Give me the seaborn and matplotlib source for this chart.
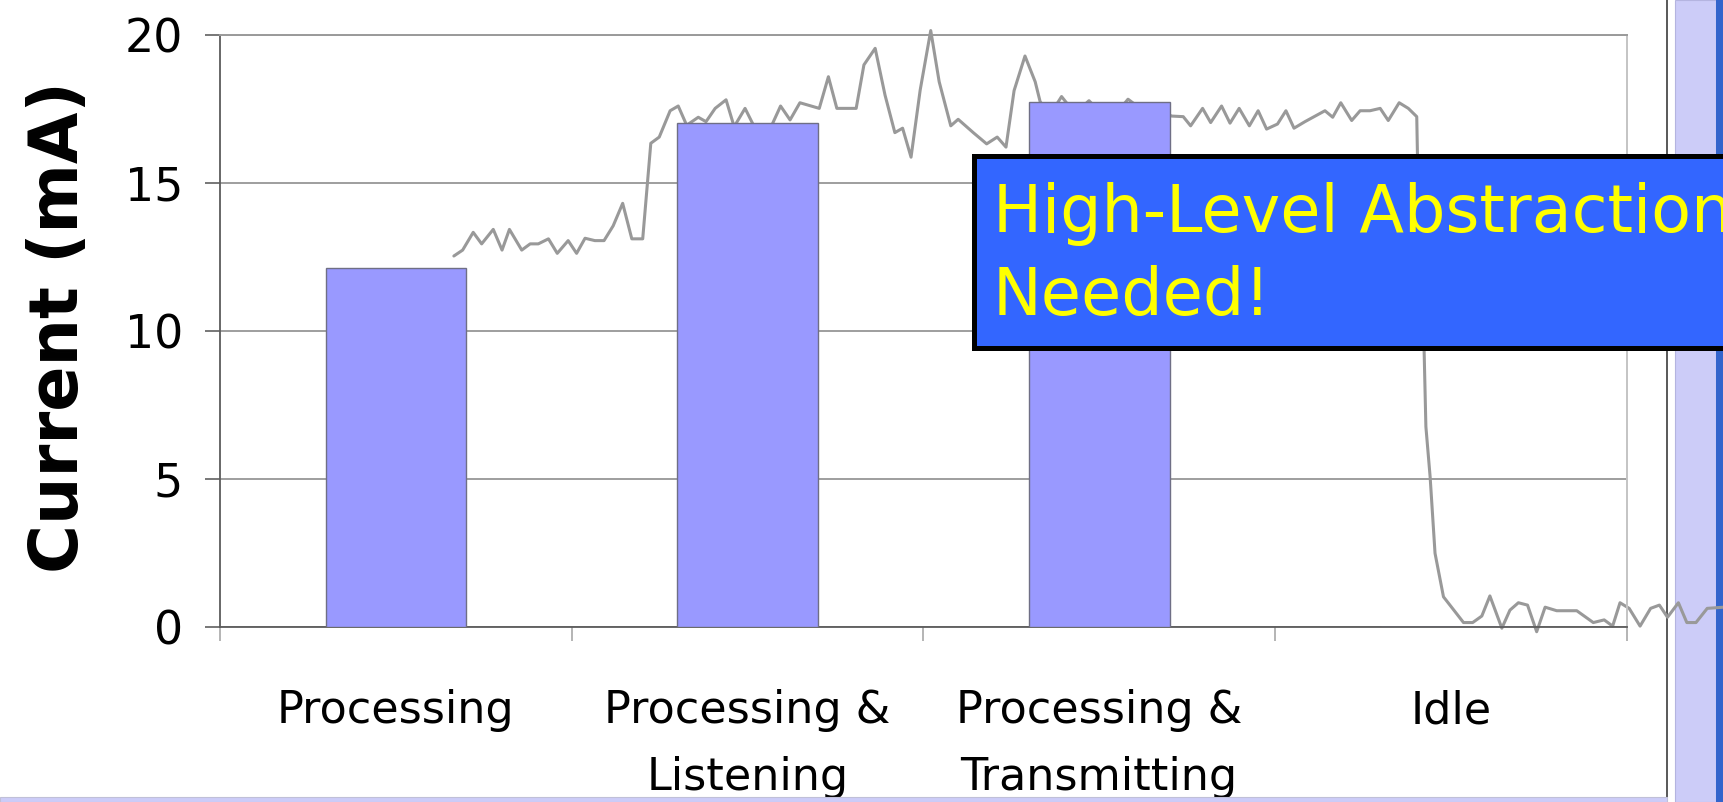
import numpy as np
import pandas as pd
import matplotlib
matplotlib.use("Agg")
import matplotlib.pyplot as plt
import seaborn as sns
from matplotlib.patches import Rectangle
from matplotlib.lines import Line2D

# Average current per operating mode
modes = ["Processing", "Processing &\nListening", "Processing &\nTransmitting", "Idle"]
mode_current_ma = [12.12, 17.02, 17.73, 0.0]

# Measured current trace, position along the mode axis and current in mA
trace_pos = [
    0.165, 0.190, 0.220, 0.244, 0.277, 0.302, 0.323, 0.358, 0.382, 0.405,
    0.434, 0.459, 0.490, 0.514, 0.538, 0.566, 0.592, 0.618, 0.645, 0.671,
    0.702, 0.725, 0.749, 0.780, 0.803, 0.827, 0.860, 0.882, 0.908, 0.939,
    0.962, 0.993, 1.017, 1.041, 1.069, 1.094, 1.121, 1.149, 1.204, 1.230,
    1.254, 1.309, 1.331, 1.363, 1.391, 1.419, 1.441, 1.465, 1.491, 1.521,
    1.545, 1.578, 1.599, 1.642, 1.680, 1.710, 1.735, 1.758, 1.789, 1.818,
    1.832, 1.860, 1.893, 1.931, 1.971, 2.002, 2.045, 2.082, 2.130, 2.173,
    2.206, 2.239, 2.260, 2.294, 2.317, 2.348, 2.372, 2.398, 2.427, 2.452,
    2.476, 2.507, 2.531, 2.554, 2.585, 2.614, 2.642, 2.664, 2.687, 2.718,
    2.742, 2.770, 2.799, 2.822, 2.853, 2.879, 2.903, 2.908, 2.924, 2.929,
    2.941, 2.955, 2.979, 3.036, 3.062, 3.088, 3.111, 3.145, 3.168, 3.192,
    3.218, 3.244, 3.268, 3.301, 3.358, 3.405, 3.436, 3.460, 3.481, 3.507,
    3.538, 3.568, 3.593, 3.616, 3.647, 3.671, 3.697, 3.729, 3.777,
]
trace_ma = [
    12.53, 12.73, 13.33, 12.94, 13.43, 12.73, 13.43, 12.73, 12.94, 12.94,
    13.11, 12.62, 13.05, 12.62, 13.13, 13.05, 13.05, 13.55, 14.31, 13.11,
    13.11, 16.34, 16.55, 17.44, 17.60, 16.95, 17.22, 17.07, 17.52, 17.81,
    16.90, 17.52, 16.95, 16.90, 16.95, 17.60, 17.13, 17.71, 17.52, 18.59,
    17.52, 17.52, 18.99, 19.55, 17.97, 16.70, 16.85, 15.87, 18.14, 20.15,
    18.42, 16.93, 17.15, 16.70, 16.32, 16.55, 16.21, 18.12, 19.29, 18.42,
    17.75, 17.30, 17.92, 17.35, 17.78, 17.40, 17.30, 17.83, 17.40, 17.45,
    17.26, 17.24, 16.93, 17.52, 17.04, 17.60, 17.02, 17.52, 16.93, 17.44,
    16.82, 16.99, 17.44, 16.85, 17.07, 17.26, 17.44, 17.22, 17.71, 17.11,
    17.44, 17.44, 17.52, 17.11, 17.71, 17.52, 17.24, 14.00, 9.30, 6.76,
    5.07, 2.48, 1.01, 0.14, 0.14, 0.36, 1.04, -0.05, 0.56, 0.81,
    0.73, -0.17, 0.66, 0.54, 0.54, 0.14, 0.23, 0.02, 0.81, 0.62,
    0.02, 0.62, 0.73, 0.32, 0.81, 0.14, 0.14, 0.62, 0.66,
]

y_ticks = [0, 5, 10, 15, 20]
y_label = "Current (mA)"
callout_lines = ["High-Level Abstraction", "Needed!"]

W, H, DPI = 1724, 802, 100

sns.set_theme(style="ticks")
plt.rcParams["font.family"] = ["DejaVu Sans"]


def fx(px):
    return px / W


def fy(py):
    return 1.0 - py / H


fig = plt.figure(figsize=(W / DPI, H / DPI), dpi=DPI)
fig.patch.set_facecolor("white")

# plot area
ax_left, ax_right, ax_top, ax_bottom = 220, 1626.7, 35, 626.7
ax = fig.add_axes([fx(ax_left), fy(ax_bottom),
                   (ax_right - ax_left) / W, (ax_bottom - ax_top) / H])
ax.set_facecolor("white")

# oscilloscope trace behind the bars
sns.lineplot(x=trace_pos, y=trace_ma, sort=False, estimator=None,
             color="#999999", linewidth=2.2, ax=ax, zorder=2.5)
for ln in ax.lines:
    ln.set_clip_on(False)

df = pd.DataFrame({"mode": modes, "current": mode_current_ma})
sns.barplot(data=df, x="mode", y="current", order=modes, color="#9999FF",
            saturation=1, width=0.4, edgecolor="#6f6f85", linewidth=1.0,
            errorbar=None, ax=ax, zorder=3)

ax.set_xlim(-0.5, len(modes) - 0.5)
ax.set_ylim(0, 20)
ax.set_xlabel("")
ax.set_ylabel("")

ax.set_yticks(y_ticks)
ax.set_yticklabels([str(v) for v in y_ticks], fontsize=33)
ax.yaxis.grid(True, color="#8e8e8e", linewidth=1.2)
ax.xaxis.grid(False)
ax.set_axisbelow(True)

ax.set_xticks(range(len(modes)))
ax.set_xticklabels(modes, fontsize=32, linespacing=1.7)
ax.set_xticks(np.arange(-0.5, len(modes), 1.0), minor=True)
ax.tick_params(axis="x", which="major", length=0, pad=45, colors="black")
ax.tick_params(axis="x", which="minor", length=10, width=1.2,
               color="#a8a8a8", bottom=True)
ax.tick_params(axis="y", which="major", length=10.8, width=1.2,
               color="#606060", pad=15.8, labelcolor="black", left=True)

for side in ["left", "bottom"]:
    ax.spines[side].set_color("#5c5c5c")
    ax.spines[side].set_linewidth(1.3)
ax.spines["top"].set_color("#9a9a9a")
ax.spines["top"].set_linewidth(1.4)
ax.spines["right"].set_color("#c4c4c4")
ax.spines["right"].set_linewidth(1.4)
for sp in ax.spines.values():
    sp.set_visible(True)

# y-axis title
fig.text(fx(78), fy(327), y_label, rotation=90, rotation_mode="anchor",
         ha="center", va="baseline", fontsize=48, fontweight="bold",
         color="black")

# slide frame: right side band and bottom strip
fig.add_artist(Line2D([fx(1667.5), fx(1667.5)], [0, 1], color="#3c3c3c",
                      linewidth=1.2, zorder=-1))
fig.add_artist(Rectangle((fx(1675), 0), fx(1716) - fx(1675), 1,
                         transform=fig.transFigure, facecolor="#CCCCF8",
                         edgecolor="#b4b4e0", linewidth=0.8, zorder=-1))
fig.add_artist(Rectangle((fx(1716), 0), fx(1730) - fx(1716), 1,
                         transform=fig.transFigure, facecolor="#3364CC",
                         edgecolor="none", zorder=-1))
fig.add_artist(Rectangle((0, 0), fx(1667), fy(797), transform=fig.transFigure,
                         facecolor="#CCCCF8", edgecolor="#c0c0d8",
                         linewidth=0.8, zorder=5))

# callout box
fig.add_artist(Rectangle((fx(974.5), fy(347.5)), fx(1760) - fx(974.5),
                         fy(155.5) - fy(347.5), transform=fig.transFigure,
                         facecolor="#3366FF", edgecolor="black",
                         linewidth=3.6, zorder=10))
fig.text(fx(993), fy(231.7), callout_lines[0], ha="left", va="baseline",
         fontsize=47, color="#FFFF00", zorder=11)
fig.text(fx(993), fy(315), callout_lines[1], ha="left", va="baseline",
         fontsize=47, color="#FFFF00", zorder=11)

fig.savefig("out.png", dpi=DPI, facecolor="white")
